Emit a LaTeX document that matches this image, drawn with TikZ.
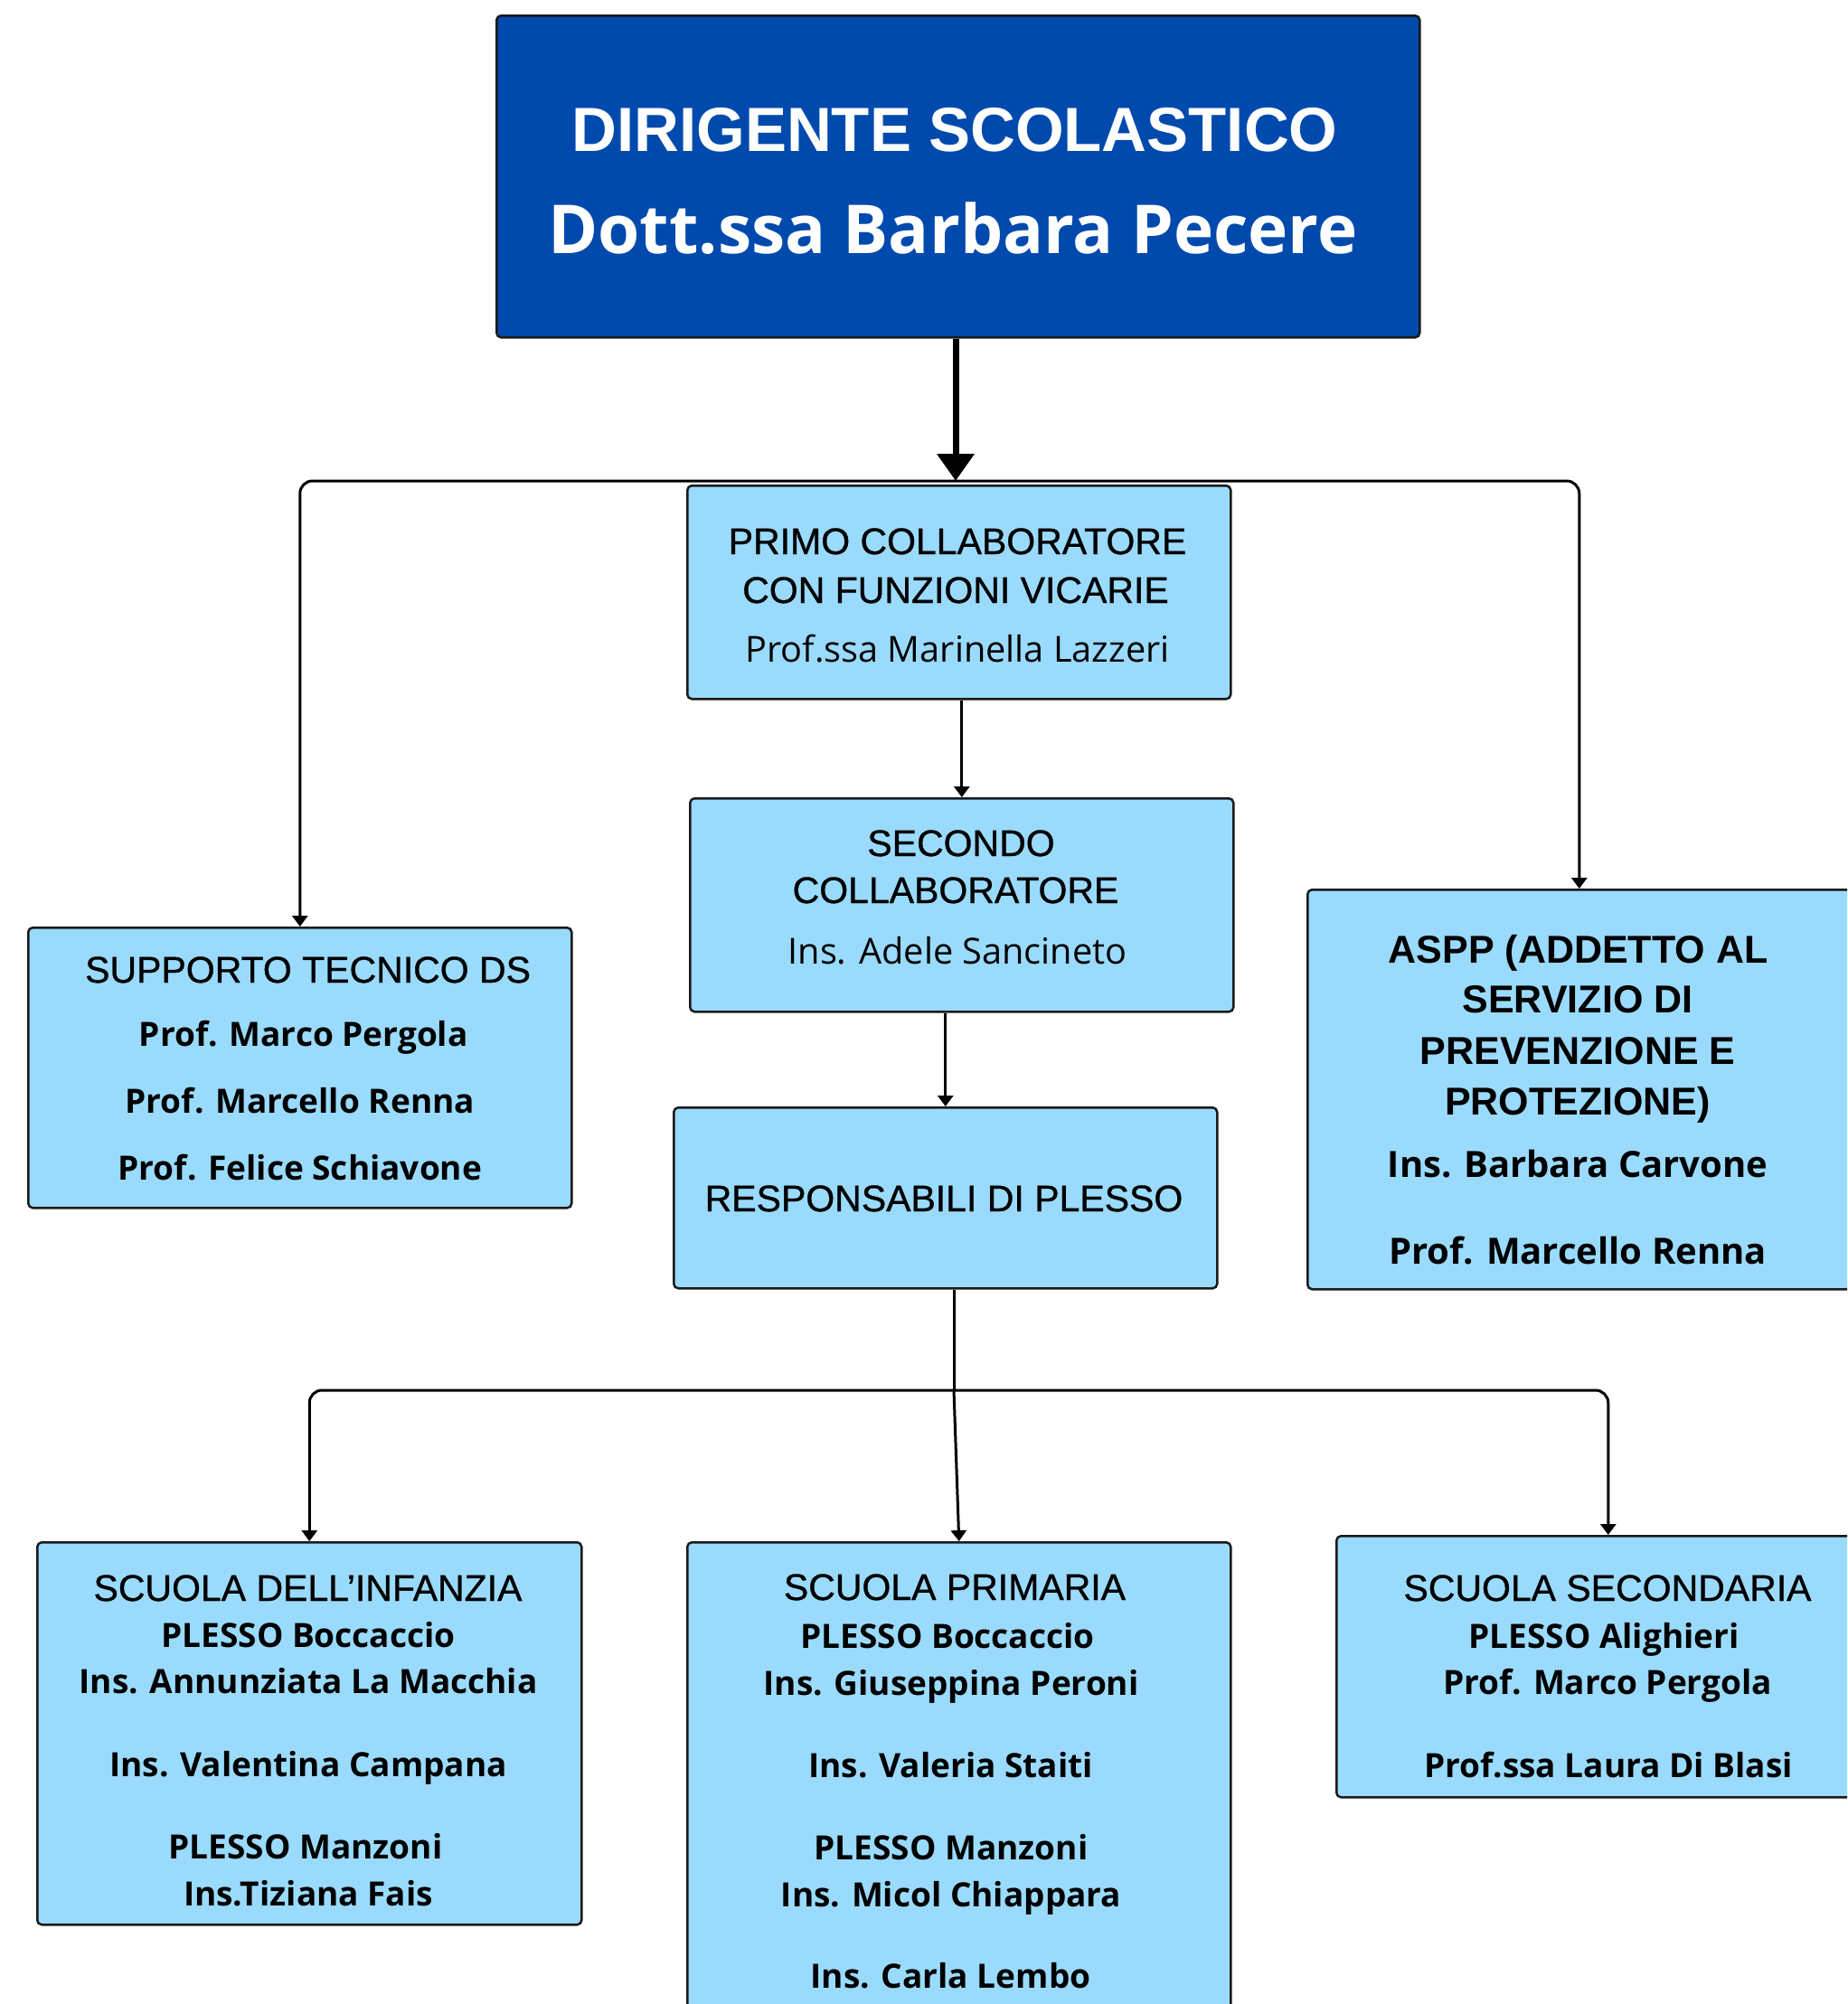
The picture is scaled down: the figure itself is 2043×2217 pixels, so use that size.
\documentclass[tikz,border=0pt]{standalone}
\usepackage{fontspec}
\setmainfont{Liberation Sans}
\newfontfamily\osf{Open Sans}
\newfontfamily\hdrfont[FakeBold=0.8]{Liberation Sans}
\usetikzlibrary{arrows.meta}
\definecolor{dsblue}{HTML}{004AAD}
\definecolor{boxblue}{HTML}{9ADBFD}
\definecolor{edgecol}{HTML}{1A1A1A}
\begin{document}
\begin{tikzpicture}[x=1pt,y=-1pt,
  box/.style={draw=edgecol, line width=2.5pt, fill=boxblue, rounded corners=5pt, inner sep=0pt, anchor=north west},
  hdr/.style={anchor=base, inner sep=0pt, font=\hdrfont\fontsize{41}{48}\selectfont},
  hdrb/.style={anchor=base, inner sep=0pt, font=\bfseries\fontsize{43}{50}\selectfont},
  nmb/.style={anchor=base, inner sep=0pt, font=\osf\bfseries\fontsize{37}{44}\selectfont},
  nmbl/.style={anchor=base, inner sep=0pt, font=\osf\bfseries\fontsize{40}{47}\selectfont},
  nmr/.style={anchor=base, inner sep=0pt, font=\osf\fontsize{39.7}{46}\selectfont},
  conn/.style={line width=3pt, draw=black},
  arr/.style={conn, -{Triangle[width=17pt,length=12pt]}}]
\path[use as bounding box] (0,0) rectangle (2043,2217);
\clip (0,0) rectangle (2043,2217);
\fill[white] (0,0) rectangle (2043,2217);

% boxes
\node[box, fill=dsblue, minimum width=1021pt, minimum height=356pt] (ds) at (548,16) {};
\node[box, minimum width=601pt, minimum height=236pt] (primo) at (759,536) {};
\node[box, minimum width=601pt, minimum height=236pt] (sec) at (762,882) {};
\node[box, minimum width=601pt, minimum height=200pt] (resp) at (744,1224) {};
\node[box, minimum width=601pt, minimum height=310pt] (sup) at (30,1025) {};
\node[box, minimum width=601pt, minimum height=442pt] (aspp) at (1445,983) {};
\node[box, minimum width=602pt, minimum height=423pt] (inf) at (40,1705) {};
\node[box, minimum width=601pt, minimum height=560pt] (pri) at (759,1705) {};
\node[box, minimum width=601pt, minimum height=289pt] (sec2) at (1477,1698) {};

% top box text
\node[anchor=base, inner sep=0pt, text=white, font=\bfseries\fontsize{69}{80}\selectfont] (t1) at (1056,167) {DIRIGENTE SCOLASTICO};
\node[anchor=base, inner sep=0pt, text=white, font=\osf\bfseries\fontsize{74.7}{85}\selectfont] (t2) at (1054,280) {Dott.ssa Barbara Pecere};

% primo
\node[hdr] (p1) at (1059,613) {PRIMO COLLABORATORE};
\node[hdr] (p2) at (1057,667) {CON FUNZIONI VICARIE};
\node[nmr] (p3) at (1059,732) {Prof.ssa Marinella Lazzeri};

% secondo
\node[hdr] (s1) at (1063,947) {SECONDO};
\node[hdr] (s2) at (1057,999) {COLLABORATORE};
\node[nmr] (s3) at (1059,1066) {Ins. Adele Sancineto};

% responsabili
\node[hdr] (r1) at (1044,1340) {RESPONSABILI DI PLESSO};

% supporto
\node[hdr] (u1) at (340.6,1087) {SUPPORTO TECNICO DS};
\node[nmb] (u2) at (335.7,1157) {Prof. Marco Pergola};
\node[nmb] (u3) at (331.8,1231) {Prof. Marcello Renna};
\node[nmb] (u4) at (331.8,1305) {Prof. Felice Schiavone};

% aspp
\node[hdrb] (a1) at (1745.5,1065) {ASPP (ADDETTO AL};
\node[hdrb] (a2) at (1745,1120) {SERVIZIO DI};
\node[hdrb] (a3) at (1745,1177) {PREVENZIONE E};
\node[hdrb] (a4) at (1745,1233) {PROTEZIONE)};
\node[nmbl] (a5) at (1745,1302) {Ins. Barbara Carvone};
\node[nmbl] (a6) at (1745,1398) {Prof. Marcello Renna};

% infanzia
\node[hdr] (i1) at (340.5,1771) {SCUOLA DELL’INFANZIA};
\node[nmb] (i2) at (341,1822) {PLESSO Boccaccio};
\node[nmb] (i3) at (341,1873) {Ins. Annunziata La Macchia};
\node[nmb] (i4) at (341,1965) {Ins. Valentina Campana};
\node[nmb] (i5) at (338,2056) {PLESSO Manzoni};
\node[nmb] (i6) at (341,2108) {Ins.Tiziana Fais};

% primaria
\node[hdr] (m1) at (1056,1770) {SCUOLA PRIMARIA};
\node[nmb] (m2) at (1048,1823) {PLESSO Boccaccio};
\node[nmb] (m3) at (1052,1875) {Ins. Giuseppina Peroni};
\node[nmb] (m4) at (1051.5,1966) {Ins. Valeria Staiti};
\node[nmb] (m5) at (1052,2057) {PLESSO Manzoni};
\node[nmb] (m6) at (1052,2109) {Ins. Micol Chiappara};
\node[nmb] (m7) at (1051.5,2199) {Ins. Carla Lembo};

% secondaria
\node[hdr] (e1) at (1778,1771) {SCUOLA SECONDARIA};
\node[nmb] (e2) at (1774,1823) {PLESSO Alighieri};
\node[nmb] (e3) at (1778,1874) {Prof. Marco Pergola};
\node[nmb] (e4) at (1779,1966) {Prof.ssa Laura Di Blasi};

% connectors
\coordinate (busT) at (1057,532);
\coordinate (busB) at (1055,1538);
\draw[line width=7pt, -{Triangle[width=40pt,length=30pt]}] (ds.south -| busT) -- (busT);
\draw[arr, rounded corners=14pt] (busT) -| (sup.north);
\draw[arr, rounded corners=14pt] (busT) -| (aspp.north);
\draw[arr] (primo.south -| sec.north) -- (sec.north);
\draw[arr] (sec.south -| resp.north) -- (resp.north);
\draw[conn] (resp.south -| busB) -- (busB);
\draw[arr, rounded corners=14pt] (busB) -| (inf.north);
\draw[arr, rounded corners=14pt] (busB) -| (sec2.north);
\draw[arr] (busB) -- (pri.north);
\end{tikzpicture}
\end{document}
